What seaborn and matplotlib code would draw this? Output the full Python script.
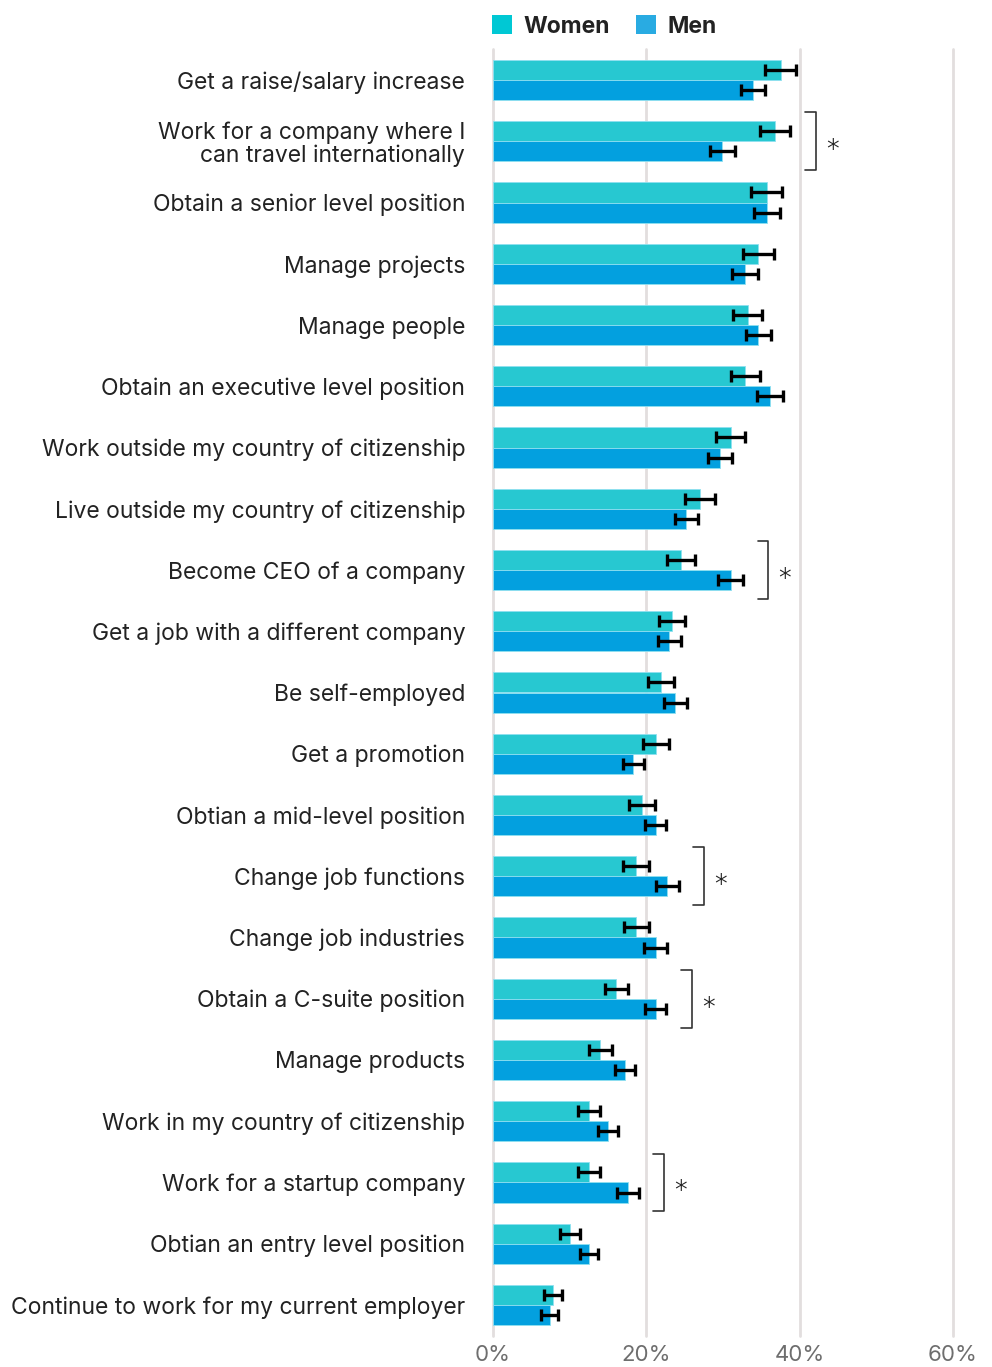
import matplotlib
matplotlib.use("Agg")
import matplotlib.pyplot as plt
from matplotlib.patches import Patch
import seaborn as sns
import pandas as pd

# Career goals by gender (% of respondents) with margins of error
goals = [
    "Get a raise/salary increase",
    "Work for a company where I\ncan travel internationally",
    "Obtain a senior level position",
    "Manage projects",
    "Manage people",
    "Obtain an executive level position",
    "Work outside my country of citizenship",
    "Live outside my country of citizenship",
    "Become CEO of a company",
    "Get a job with a different company",
    "Be self-employed",
    "Get a promotion",
    "Obtian a mid-level position",
    "Change job functions",
    "Change job industries",
    "Obtain a C-suite position",
    "Manage products",
    "Work in my country of citizenship",
    "Work for a startup company",
    "Obtian an entry level position",
    "Continue to work for my current employer",
]
women = [37.5, 36.8, 35.7, 34.6, 33.2, 32.9, 31.0, 27.0, 24.5, 23.4, 21.9,
         21.2, 19.4, 18.7, 18.7, 16.1, 14.0, 12.5, 12.5, 10.0, 7.8]
men = [33.9, 29.9, 35.7, 32.9, 34.6, 36.1, 29.6, 25.2, 31.0, 23.0, 23.8,
       18.3, 21.2, 22.7, 21.2, 21.2, 17.2, 15.0, 17.6, 12.5, 7.4]
women_err = [2.0, 2.0, 2.0, 2.0, 1.9, 1.9, 1.9, 1.9, 1.8, 1.7, 1.7,
             1.7, 1.7, 1.7, 1.6, 1.5, 1.5, 1.4, 1.4, 1.3, 1.2]
men_err = [1.6, 1.6, 1.7, 1.7, 1.6, 1.7, 1.6, 1.5, 1.6, 1.5, 1.5,
           1.4, 1.4, 1.5, 1.5, 1.4, 1.3, 1.3, 1.4, 1.2, 1.1]
significant = [
    "Work for a company where I\ncan travel internationally",
    "Become CEO of a company",
    "Change job functions",
    "Obtain a C-suite position",
    "Work for a startup company",
]
groups = ["Women", "Men"]
x_ticks = [0, 20, 40, 60]
x_tick_labels = ["0%", "20%", "40%", "60%"]

bar_colors = {"Women": "#27C8D1", "Men": "#03A0DF"}
legend_colors = {"Women": "#00C8D4", "Men": "#29ABE2"}
text_color = "#222222"

df = pd.DataFrame({
    "goal": goals * 2,
    "group": ["Women"] * len(goals) + ["Men"] * len(goals),
    "share": women + men,
    "err": women_err + men_err,
})

sns.set_theme(style="white")
plt.rcParams["font.family"] = ["Inter", "DejaVu Sans"]

fig = plt.figure(figsize=(9.92, 13.67), dpi=100)
ax = fig.add_axes([493 / 992, 1 - 1335.6 / 1367, 460 / 992, (1335.6 - 49.4) / 1367])

sns.barplot(
    data=df, y="goal", x="share", hue="group", hue_order=groups,
    order=goals, orient="h", palette=bar_colors, width=0.66,
    errorbar=None, saturation=1, ax=ax, zorder=2,
    edgecolor="#8fe0f0", linewidth=0.6,
)

# error bars centred on each bar end
for container, grp in zip(ax.containers, groups):
    sub = df[df["group"] == grp].set_index("goal").loc[goals]
    ys = [p.get_y() + p.get_height() / 2 for p in container.patches]
    ax.errorbar(sub["share"].values, ys, xerr=sub["err"].values, fmt="none",
                ecolor="black", elinewidth=2.4, capsize=4.3, capthick=2.4,
                zorder=4, clip_on=False)

# significance brackets
for g in significant:
    i = goals.index(g)
    top = max(women[i] + women_err[i], men[i] + men_err[i]) + 3.3
    y0, y1 = i - 0.47, i + 0.47
    ax.plot([top - 1.4, top, top, top - 1.4], [y0, y0, y1, y1],
            color="#333333", lw=1.2, clip_on=False, zorder=5)
    ax.text(top + 1.2, i + 0.17, "*", ha="left", va="center",
            fontsize=21, color="#222222", fontweight="light")

ax.set_xlim(0, 60)
ax.set_ylim(len(goals) - 0.5, -0.5)
for t in x_ticks:
    ax.axvline(t, color="#e2dede", lw=2.0, zorder=0, clip_on=False)
ax.set_xticks(x_ticks)
ax.set_xticklabels(x_tick_labels, fontsize=16, color="#6e6e6e")
ax.tick_params(axis="x", length=0, pad=7)
ax.tick_params(axis="y", length=0, pad=20, labelsize=16.5, labelcolor=text_color)
for lbl in ax.get_yticklabels():
    lbl.set_linespacing(1.05)
ax.set_xlabel("")
ax.set_ylabel("")
for s in ax.spines.values():
    s.set_visible(False)
ax.grid(False)

# legend above the plot
handles = [Patch(facecolor=legend_colors[g], edgecolor="none") for g in groups]
ax.get_legend().remove()
leg = fig.legend(handles, groups, loc="upper left",
                 bbox_to_anchor=(481 / 992, 1 - 4 / 1367), ncol=2, frameon=False,
                 handlelength=0.85, handleheight=0.85,
                 handletextpad=0.5, columnspacing=1.15, borderpad=0,
                 prop={"weight": "bold", "size": 16.5})
for t in leg.get_texts():
    t.set_color(text_color)

fig.savefig("out.png", dpi=100, facecolor="white")
